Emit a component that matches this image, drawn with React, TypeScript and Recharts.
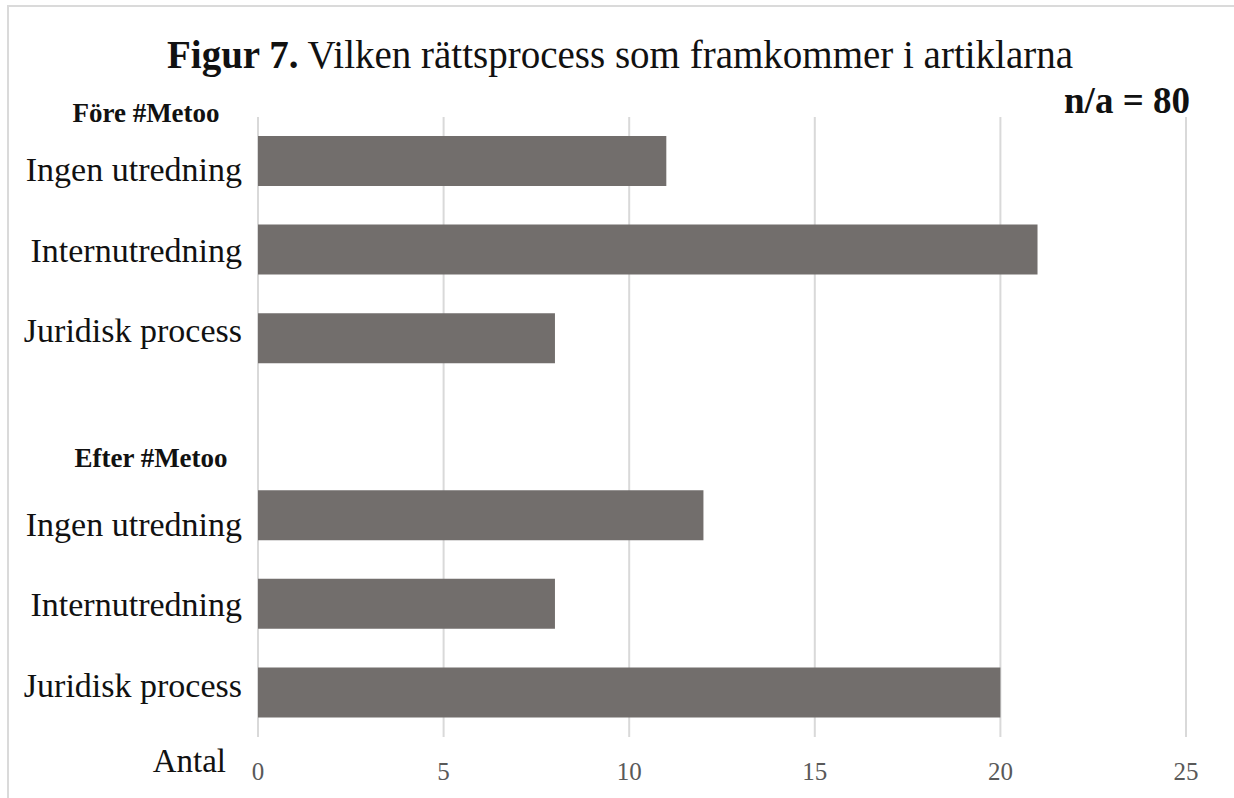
import React from 'react';
import { BarChart, Bar, XAxis, YAxis, CartesianGrid } from 'recharts';

// Data
const groups = ['Före #Metoo', 'Efter #Metoo'];
const categories = ['Ingen utredning', 'Internutredning', 'Juridisk process'];
const foreValues = [11, 21, 8];
const efterValues = [12, 8, 20];
const xTicks = [0, 5, 10, 15, 20, 25];

const TITLE_BOLD = 'Figur 7.';
const TITLE_REST = ' Vilken rättsprocess som framkommer i artiklarna';
const NOTE = 'n/a = 80';
const AXIS_LABEL = 'Antal';

// rows: three "före", an empty spacer, three "efter"
const rows = [
  ...categories.map((c, i) => ({ id: `fore-${i}`, label: c, pos: i, antal: foreValues[i] })),
  { id: 'spacer', label: '', pos: -1, antal: null as number | null },
  ...categories.map((c, i) => ({ id: `efter-${i}`, label: c, pos: i, antal: efterValues[i] })),
];

const FONT = '"Liberation Serif", "Times New Roman", serif';

function CategoryTick(props: any) {
  const { x, y, index } = props;
  const row = rows[index];
  if (!row || !row.label) return null;
  // labels sit a bit closer together than the bars in the original
  const shift = (1 - row.pos) * 8 + 1;
  return (
    <text x={x} y={y + 11 + shift} textAnchor="end" fontFamily={FONT} fontSize={34} fill="#111">
      {row.label}
    </text>
  );
}

function NumberTick(props: any) {
  const { x, y, payload } = props;
  return (
    <text x={x} y={y + 43} textAnchor="middle" fontFamily={FONT} fontSize={25} fill="#595959">
      {payload.value}
    </text>
  );
}

export default function App() {
  return (
    <div
      style={{
        position: 'absolute',
        left: 0,
        top: 0,
        width: 1234,
        height: 798,
        background: '#fff',
        overflow: 'hidden',
      }}
    >
      <div
        style={{
          position: 'absolute',
          left: 7,
          top: 5,
          width: 1227,
          height: 793,
          borderLeft: '2px solid #dadada',
          borderTop: '2px solid #dadada',
          boxSizing: 'border-box',
        }}
      />
      <BarChart
        width={1234}
        height={798}
        data={rows}
        layout="vertical"
        margin={{ top: 117, right: 48, bottom: 11, left: 0 }}
        barSize={50}
      >
        <CartesianGrid horizontal={false} stroke="#d9d9d9" strokeWidth={2} />
        <XAxis
          type="number"
          domain={[0, 25]}
          ticks={xTicks}
          axisLine={false}
          tickLine={false}
          tickSize={0}
          tickMargin={0}
          height={50}
          tick={<NumberTick />}
        />
        <YAxis
          type="category"
          dataKey="id"
          width={258}
          axisLine={false}
          tickLine={false}
          tickSize={0}
          tickMargin={16}
          interval={0}
          tick={<CategoryTick />}
        />
        <Bar dataKey="antal" fill="#726e6c" isAnimationActive={false} />
      </BarChart>
      <svg
        width={1234}
        height={798}
        style={{ position: 'absolute', left: 0, top: 0, pointerEvents: 'none' }}
        fontFamily={FONT}
      >
        <text x={620} y={68} textAnchor="middle" fontSize={39} fill="#111">
          <tspan fontWeight="bold">{TITLE_BOLD}</tspan>
          <tspan>{TITLE_REST}</tspan>
        </text>
        <text x={1190} y={113} textAnchor="end" fontSize={37} fontWeight="bold" fill="#111">
          {NOTE}
        </text>
        <text x={146} y={122} textAnchor="middle" fontSize={27} fontWeight="bold" fill="#111">
          {groups[0]}
        </text>
        <text x={151} y={467} textAnchor="middle" fontSize={27} fontWeight="bold" fill="#111">
          {groups[1]}
        </text>
        <text x={226} y={772} textAnchor="end" fontSize={33} fill="#111">
          {AXIS_LABEL}
        </text>
      </svg>
    </div>
  );
}
